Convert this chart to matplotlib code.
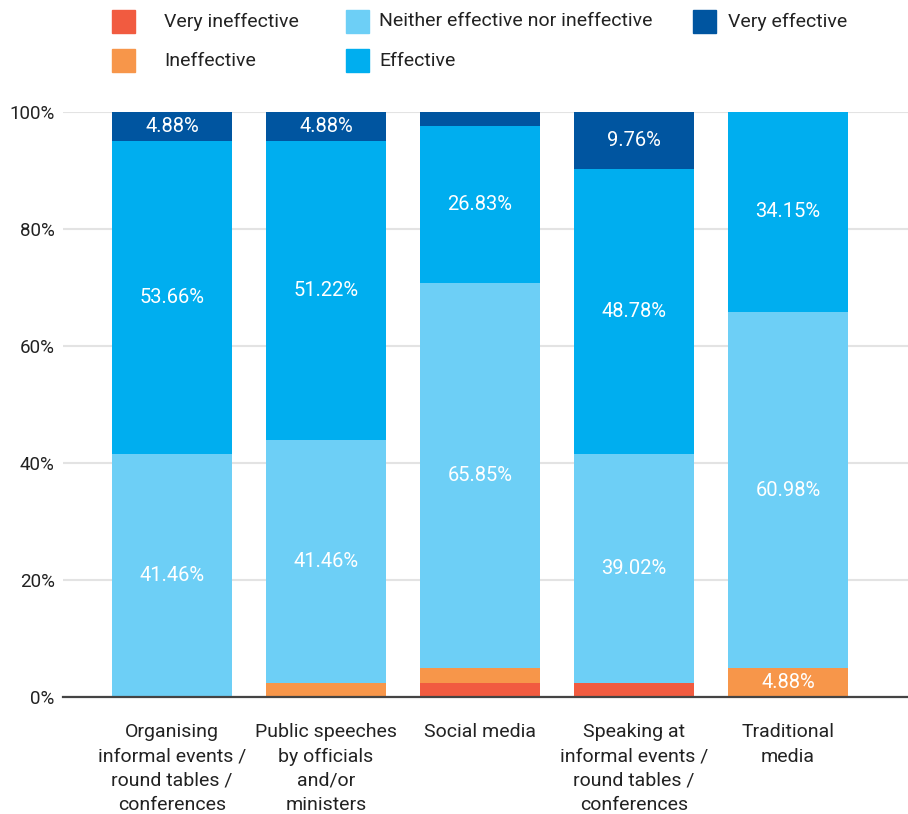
import matplotlib.pyplot as plt
from matplotlib.patches import Rectangle
import numpy as np

# categories and series (percent of respondents)
categories = [
    "Organising\ninformal events /\nround tables /\nconferences",
    "Public speeches\nby officials\nand/or\nministers",
    "Social media",
    "Speaking at\ninformal events /\nround tables /\nconferences",
    "Traditional\nmedia",
]
series_names = ["Very ineffective", "Ineffective", "Neither effective nor ineffective",
                "Effective", "Very effective"]
very_ineffective = [0, 0, 2.44, 2.44, 0]
ineffective = [0, 2.44, 2.44, 0, 4.88]
neither = [41.46, 41.46, 65.85, 39.02, 60.98]
effective = [53.66, 51.22, 26.83, 48.78, 34.15]
very_effective = [4.88, 4.88, 2.44, 9.76, 0]
y_ticks = [0, 20, 40, 60, 80, 100]

colors = ["#F15B40", "#F7964A", "#6DCFF6", "#00AEEF", "#0055A0"]
label_font = ["Roboto", "DejaVu Sans"]
value_font = ["Roboto", "DejaVu Sans"]

fig = plt.figure(figsize=(9.08, 8.14), dpi=100)
ax = fig.add_axes([63 / 908, 117 / 814, 845 / 908, 585 / 814])

x = np.arange(len(categories))
width = 0.779
bottom = np.zeros(len(categories))
all_series = [very_ineffective, ineffective, neither, effective, very_effective]
for vals, col in zip(all_series, colors):
    vals = np.array(vals)
    ax.bar(x, vals, width, bottom=bottom, color=col, zorder=2)
    for xi, v, b in zip(x, vals, bottom):
        if v >= 4:
            ax.text(xi, b + v / 2, f"{v:.2f}%", ha="center", va="center",
                    color="white", fontsize=14.5, family=value_font, zorder=3)
    bottom += vals

ax.set_xlim(-0.708, 4.779)
ax.set_ylim(0, 100)
ax.set_yticks(y_ticks)
ax.set_yticklabels([f"{t}%" for t in y_ticks], family=label_font, fontsize=13.5, color="#222222")
ax.set_xticks(x)
ax.set_xticklabels(categories, family=label_font, fontsize=14, color="#222222", linespacing=1.44)
ax.tick_params(axis="both", length=0)
ax.tick_params(axis="y", pad=6)
ax.tick_params(axis="x", pad=19)
ax.yaxis.grid(True, color="#e3e3e3", linewidth=1.5, zorder=0)
for s in ["top", "right", "left"]:
    ax.spines[s].set_visible(False)
ax.spines["bottom"].set_color("#444444")
ax.spines["bottom"].set_linewidth(1.6)
ax.spines["bottom"].set_zorder(4)

# legend drawn by hand, column-major like the original
W, H = 908, 814
legend_pos = [(112, 164, 21.5), (112, 164, 60.5), (346, 379, 21.5), (346, 379, 60.5), (693, 728, 21.5)]
for name, col, (sx, tx, cy) in zip(series_names, colors, legend_pos):
    fig.add_artist(Rectangle((sx / W, 1 - (cy + 11.5) / H), 23 / W, 23 / H,
                             transform=fig.transFigure, color=col))
    fig.text(tx / W, 1 - cy / H, name, ha="left", va="center", family=label_font,
             fontsize=14, color="#222222")

fig.savefig("out.png", dpi=100)
